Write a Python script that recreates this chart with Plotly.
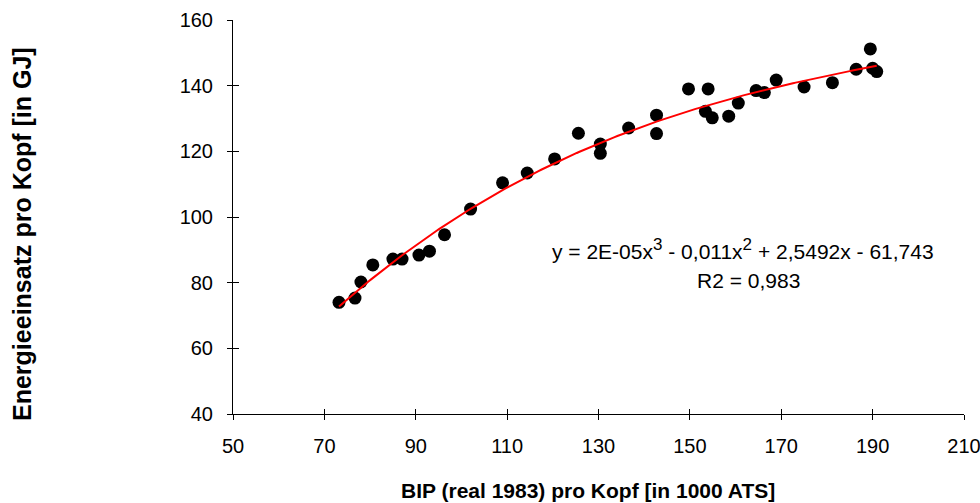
import numpy as np
import plotly.graph_objects as go

# Data
bip = [73.2, 76.7, 78.0, 80.6, 85.0, 87.0, 90.7, 93.0, 96.3, 102.0,
       109.0, 114.4, 120.4, 125.6, 130.4, 130.4, 136.6, 142.7, 142.7,
       149.7, 153.4, 154.0, 154.9, 158.5, 160.6, 164.5, 166.3, 168.9,
       175.0, 181.2, 186.4, 189.5, 190.0, 190.9]
energie = [74.0, 75.3, 80.2, 85.4, 87.2, 87.2, 88.4, 89.6, 94.6, 102.4,
           110.4, 113.4, 117.7, 125.5, 122.2, 119.4, 127.1, 131.0, 125.4,
           139.0, 132.2, 139.0, 130.2, 130.7, 134.7, 138.5, 137.9, 141.7,
           139.6, 140.9, 145.0, 151.2, 145.3, 144.3]

x_ticks = [50, 70, 90, 110, 130, 150, 170, 190, 210]
y_ticks = [40, 60, 80, 100, 120, 140, 160]

eq_text = ("y = 2E-05x<sup><span style='font-size:17px'>3</span></sup>"
           " - 0,011x<sup><span style='font-size:17px'>2</span></sup>"
           " + 2,5492x - 61,743")
r2_text = "R2 = 0,983"
x_title = "<b>BIP (real 1983) pro Kopf [in 1000 ATS]</b>"
y_title = "<b>Energieeinsatz pro Kopf [in GJ]</b>"

# cubic trendline fitted to the data
coef = np.polyfit(bip, energie, 3)
xs = np.linspace(min(bip), max(bip), 200)
ys = np.polyval(coef, xs)

FONT = "Liberation Sans, Arial, sans-serif"

fig = go.Figure()
fig.add_trace(go.Scatter(x=bip, y=energie, mode="markers",
                         marker=dict(size=13, color="black"),
                         showlegend=False, hoverinfo="x+y"))
fig.add_trace(go.Scatter(x=xs, y=ys, mode="lines",
                         line=dict(color="#ff0000", width=2),
                         showlegend=False, hoverinfo="skip"))
# invisible trace on secondary axes for inside ticks (cross ticks)
fig.add_trace(go.Scatter(x=[None], y=[None], xaxis="x2", yaxis="y2",
                         showlegend=False, hoverinfo="skip"))

axis_common = dict(showgrid=False, zeroline=False, showline=True,
                   linecolor="black", linewidth=1, tickcolor="black",
                   ticklen=5, tickwidth=1, automargin=False,
                   ticklabeloverflow="allow",
                   tickfont=dict(family=FONT, size=20, color="black"))

fig.update_layout(
    width=980, height=503,
    margin=dict(l=233, r=16, t=20, b=89),
    paper_bgcolor="white", plot_bgcolor="white",
    font=dict(family=FONT, color="black"),
    xaxis=dict(range=[50, 210], tickvals=x_ticks, ticks="outside",
               ticklabelstandoff=9, **axis_common),
    yaxis=dict(range=[40, 160], tickvals=y_ticks, ticks="outside",
               ticklabelstandoff=10, **axis_common),
    xaxis2=dict(range=[50, 210], tickvals=x_ticks, ticks="inside",
                overlaying="x", showticklabels=False, showgrid=False,
                zeroline=False, showline=False, ticklen=5,
                tickcolor="black", automargin=False),
    yaxis2=dict(range=[40, 160], tickvals=y_ticks, ticks="inside",
                overlaying="y", showticklabels=False, showgrid=False,
                zeroline=False, showline=False, ticklen=6,
                tickcolor="black", automargin=False),
    annotations=[
        dict(text=eq_text, x=161.6, y=90.2, xref="x", yref="y",
             showarrow=False, font=dict(family=FONT, size=21, color="black")),
        dict(text=r2_text, x=162.8, y=80.8, xref="x", yref="y",
             showarrow=False, font=dict(family=FONT, size=21, color="black")),
        dict(text=x_title, x=0.485, y=-0.193, xref="paper", yref="paper",
             showarrow=False, xanchor="center", yanchor="middle",
             font=dict(family=FONT, size=21, color="black")),
        dict(text=y_title, x=-0.2886, y=0.457, xref="paper", yref="paper",
             showarrow=False, xanchor="center", yanchor="middle",
             textangle=-90,
             font=dict(family=FONT, size=25, color="black")),
    ],
)

# remove the default 8px page margin so the 980x503 figure fills the window
fig.write_html("out.html",
               config={"displayModeBar": False},
               post_script="document.body.style.margin='0';"
                           "document.body.style.overflow='hidden';")
